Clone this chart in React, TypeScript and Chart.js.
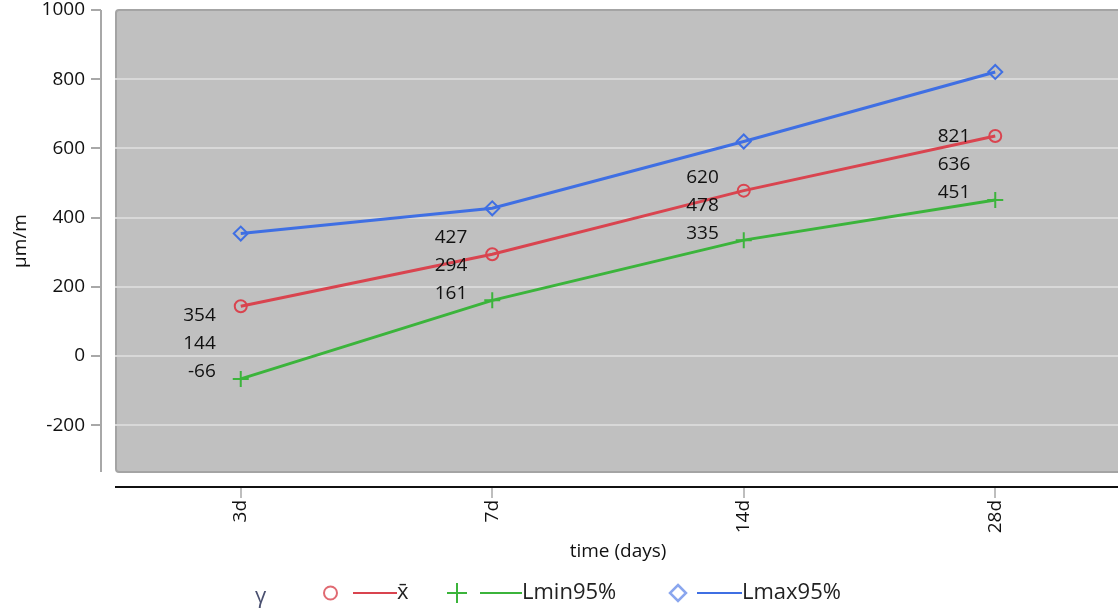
import React, { useEffect, useRef } from "react";
import { Chart, registerables } from "chart.js";

Chart.register(...registerables);

const categories = ["3d", "7d", "14d", "28d"];
const meanValues = [144, 294, 478, 636];
const lminValues = [-66, 161, 335, 451];
const lmaxValues = [354, 427, 620, 821];
const yTickValues = [-200, 0, 200, 400, 600, 800, 1000];

const FONT = "'Open Sans', 'Noto Sans', sans-serif";
const RED = "#d9444f";
const GREEN = "#3bb43b";
const BLUE = "#3f6fe3";

export default function App() {
  const canvasRef = useRef<HTMLCanvasElement | null>(null);

  useEffect(() => {
    document.body.style.margin = "0";
    document.body.style.overflow = "hidden";
    const canvas = canvasRef.current;
    if (!canvas) return;

    const bgPlugin = {
      id: "plotBg",
      beforeDraw(chart: any) {
        const { ctx, chartArea: a } = chart;
        ctx.save();
        ctx.fillStyle = "#c0c0c0";
        ctx.strokeStyle = "#a4a4a4";
        ctx.lineWidth = 2;
        ctx.beginPath();
        (ctx as any).roundRect(a.left + 1, a.top, a.right - a.left + 2, a.bottom - a.top, 3);
        ctx.fill();
        ctx.stroke();
        ctx.restore();
      },
      afterDraw(chart: any) {
        const { ctx, chartArea: a, scales } = chart;
        const ys = scales.y;
        const xs = scales.x;
        ctx.save();
        // y axis line
        ctx.strokeStyle = "#a8a8a8";
        ctx.lineWidth = 2;
        ctx.beginPath();
        ctx.moveTo(101, a.top);
        ctx.lineTo(101, a.bottom);
        ctx.stroke();
        yTickValues.forEach((v) => {
          const y = Math.round(ys.getPixelForValue(v));
          ctx.beginPath();
          ctx.moveTo(91, y);
          ctx.lineTo(101, y);
          ctx.stroke();
        });
        // x axis line
        ctx.strokeStyle = "#111";
        ctx.lineWidth = 2;
        ctx.beginPath();
        ctx.moveTo(a.left, a.bottom + 15);
        ctx.lineTo(a.right, a.bottom + 15);
        ctx.stroke();
        ctx.strokeStyle = "#a8a8a8";
        ctx.lineWidth = 1.5;
        categories.forEach((_, i) => {
          const x = Math.round(xs.getPixelForValue(i));
          ctx.beginPath();
          ctx.moveTo(x, a.bottom + 16);
          ctx.lineTo(x, a.bottom + 26);
          ctx.stroke();
        });

        // legend
        const ly = 593;
        ctx.textBaseline = "middle";
        ctx.textAlign = "left";
        ctx.font = `22px ${FONT}`;
        ctx.fillStyle = "#4a5070";
        ctx.fillText("\u03b3", 255, ly + 4);
        ctx.fillStyle = "#222";
        // mean
        ctx.lineWidth = 2;
        ctx.strokeStyle = "#e06a72";
        ctx.beginPath();
        ctx.arc(330.5, ly, 6.5, 0, Math.PI * 2);
        ctx.stroke();
        ctx.strokeStyle = RED;
        ctx.beginPath();
        ctx.moveTo(353, ly);
        ctx.lineTo(397, ly);
        ctx.stroke();
        ctx.fillText("x\u0304", 397, ly);
        // lmin
        ctx.strokeStyle = GREEN;
        ctx.beginPath();
        ctx.moveTo(447, ly);
        ctx.lineTo(467, ly);
        ctx.moveTo(457, ly - 10);
        ctx.lineTo(457, ly + 10);
        ctx.stroke();
        ctx.beginPath();
        ctx.moveTo(480, ly);
        ctx.lineTo(522, ly);
        ctx.stroke();
        ctx.fillText("Lmin95%", 522, ly);
        // lmax
        ctx.strokeStyle = "#8aa6ee";
        ctx.lineWidth = 2.5;
        ctx.beginPath();
        ctx.moveTo(678, ly - 8);
        ctx.lineTo(686, ly);
        ctx.lineTo(678, ly + 8);
        ctx.lineTo(670, ly);
        ctx.closePath();
        ctx.stroke();
        ctx.lineWidth = 2;
        ctx.strokeStyle = BLUE;
        ctx.beginPath();
        ctx.moveTo(697, ly);
        ctx.lineTo(742, ly);
        ctx.stroke();
        ctx.fillText("Lmax95%", 742, ly);
        ctx.restore();
      },
    };

    const labelPlugin = {
      id: "stackLabels",
      afterDatasetsDraw(chart: any) {
        const { ctx } = chart;
        const minMeta = chart.getDatasetMeta(1);
        ctx.save();
        ctx.font = `19px ${FONT}`;
        ctx.fillStyle = "#111";
        ctx.textAlign = "right";
        ctx.textBaseline = "middle";
        categories.forEach((_, i) => {
          const el = minMeta.data[i];
          const x = el.x - 25;
          const y = el.y - 7;
          ctx.fillText(String(lminValues[i]), x, y);
          ctx.fillText(String(meanValues[i]), x, y - 28);
          ctx.fillText(String(lmaxValues[i]), x, y - 56);
        });
        ctx.restore();
      },
    };

    const chart = new Chart(canvas, {
      type: "line",
      data: {
        labels: categories,
        datasets: [
          {
            label: "x\u0304",
            data: meanValues,
            borderColor: RED,
            borderWidth: 3,
            pointStyle: "circle",
            pointRadius: 6,
            pointBorderWidth: 2,
            pointBorderColor: RED,
            pointBackgroundColor: "transparent",
          },
          {
            label: "Lmin95%",
            data: lminValues,
            borderColor: GREEN,
            borderWidth: 3,
            pointStyle: "cross",
            pointRadius: 8,
            pointBorderWidth: 2,
            pointBorderColor: GREEN,
            pointBackgroundColor: "transparent",
          },
          {
            label: "Lmax95%",
            data: lmaxValues,
            borderColor: BLUE,
            borderWidth: 3,
            pointStyle: "rectRot",
            pointRadius: 7,
            pointBorderWidth: 2,
            pointBorderColor: BLUE,
            pointBackgroundColor: "transparent",
          },
        ],
      },
      options: {
        responsive: true,
        maintainAspectRatio: false,
        animation: false,
        events: [],
        layout: { padding: { top: 10, right: 0, bottom: 47, left: 0 } },
        plugins: {
          legend: { display: false },
          tooltip: { enabled: false },
        },
        scales: {
          x: {
            type: "category",
            offset: true,
            border: { display: false },
            grid: {
              drawOnChartArea: false,
              drawTicks: true,
              tickLength: 24,
              tickColor: "transparent",
              offset: false,
            },
            ticks: {
              minRotation: 90,
              maxRotation: 90,
              padding: 4,
              color: "#111",
              font: { family: FONT, size: 19 },
            },
            title: {
              display: true,
              text: "time (days)",
              color: "#111",
              font: { family: FONT, size: 19 },
              padding: 4,
            },
            afterFit(scale: any) {
              scale.height = 95;
              scale.paddingLeft = 0;
              scale.paddingRight = 0;
            },
          },
          y: {
            type: "linear",
            min: -335,
            max: 1000,
            border: { display: false },
            afterBuildTicks(scale: any) {
              scale.ticks = yTickValues.map((v) => ({ value: v }));
            },
            grid: {
              color: (c: any) => (c.tick && c.tick.value === 1000 ? "transparent" : "#d8d8d8"),
              lineWidth: 2,
              drawTicks: true,
              tickLength: 24,
              tickColor: "transparent",
            },
            ticks: {
              padding: 6,
              color: "#111",
              font: { family: FONT, size: 19 },
              callback: (v: any) => String(v),
            },
            title: {
              display: true,
              text: "\u03bcm/m",
              color: "#111",
              font: { family: FONT, size: 19 },
              padding: { top: 9, bottom: 4 },
            },
            afterFit(scale: any) {
              scale.width = 115;
              scale.paddingTop = 0;
              scale.paddingBottom = 0;
            },
          },
        },
      },
      plugins: [bgPlugin, labelPlugin],
    });

    return () => chart.destroy();
  }, []);

  return (
    <div style={{ overflow: "hidden", width: "1118px", height: "614px" }}>
      <div style={{ position: "relative", width: "1131px", height: "614px" }}>
        <canvas ref={canvasRef} />
      </div>
    </div>
  );
}
